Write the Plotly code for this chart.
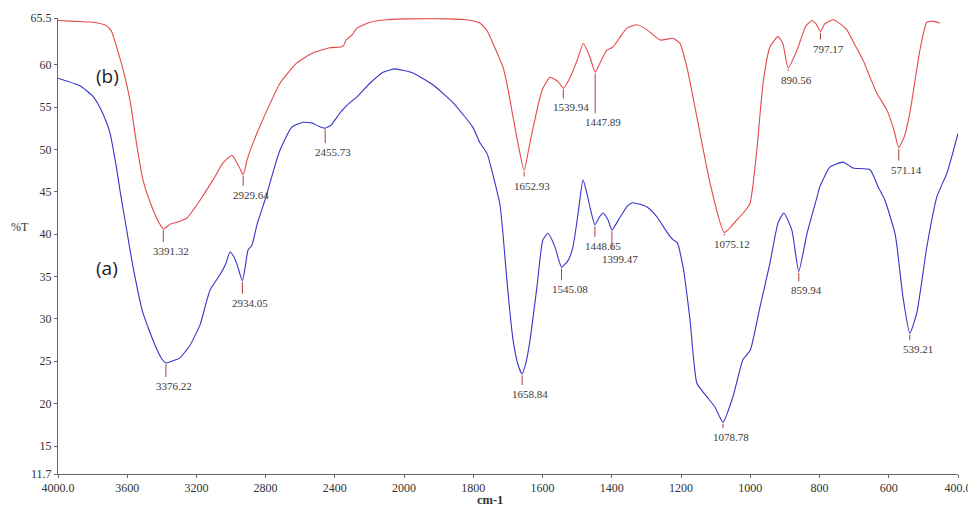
import plotly.graph_objects as go

# ---------------- data ----------------
# spectrum (b) - red
red_wn = [4000, 3900, 3800, 3720, 3690, 3660, 3624, 3584, 3543, 3509, 3457, 3420, 3391.32,
          3350, 3312, 3254, 3220, 3179, 3104, 3046, 2994, 2965, 2945, 2929.64, 2915, 2908,
          2850, 2792, 2717, 2619, 2526, 2428, 2360, 2345, 2335, 2300, 2272, 2197, 2100, 2000,
          1876, 1820, 1781, 1760, 1743, 1725, 1714, 1700, 1685, 1670, 1652.93, 1640, 1627,
          1601, 1578, 1555, 1539.94, 1520, 1500, 1482, 1463, 1447.89, 1434, 1414, 1396, 1375,
          1356, 1327, 1298, 1260, 1223, 1203, 1183, 1154, 1116, 1075.12, 1038, 1010, 1000,
          990, 981, 963, 943, 920, 906, 890.56, 865, 840, 822, 810, 797.17, 785, 761, 740,
          721, 700, 674, 655, 634, 605, 585, 571.14, 555, 539, 510, 490, 470, 452]
red_T = [65.2, 65.1, 65.0, 64.6, 63.9, 62.0, 59.4, 55.8, 50.3, 46.4, 43.2, 41.5, 40.6,
         41.2, 41.4, 41.9, 42.8, 44.0, 46.4, 48.4, 49.3, 48.4, 47.6, 47.0, 48.0, 48.7,
         51.9, 54.6, 57.8, 60.2, 61.4, 62.0, 62.1, 62.4, 62.9, 63.5, 64.3, 65.0, 65.3, 65.4,
         65.4, 65.3, 64.9, 64.0, 62.5, 60.8, 59.7, 57.2, 53.8, 50.5, 47.5, 50.0, 52.6,
         57.0, 58.5, 58.0, 57.2, 58.5, 60.5, 62.5, 60.9, 59.1, 60.2, 61.7, 62.1, 63.3,
         64.3, 64.7, 64.1, 62.9, 63.1, 62.5, 59.7, 53.8, 46.0, 40.2, 41.7, 43.0, 43.7,
         46.5, 49.9, 57.8, 62.1, 63.3, 62.5, 59.6, 61.7, 64.5, 65.2, 64.8, 63.9, 64.8, 65.3, 64.8,
         64.1, 62.5, 60.5, 58.6, 56.6, 54.6, 52.3, 50.2, 51.5, 54.3, 61.7, 65.0, 65.1, 64.9]

# spectrum (a) - blue
blue_wn = [4000, 3873, 3800, 3757, 3720, 3699, 3665, 3642, 3613, 3566, 3509, 3439, 3400,
           3376.22, 3330, 3295, 3237, 3179, 3121, 3064, 3030, 3006, 2985, 2965, 2934.05,
           2915, 2902, 2879, 2850, 2804, 2792, 2740, 2717, 2650, 2584, 2530, 2490, 2455.73,
           2420, 2370, 2330, 2272, 2197, 2121, 2052, 2000, 1974, 1916, 1858, 1801, 1781,
           1760, 1740, 1723, 1714, 1703, 1685, 1670, 1658.84, 1648, 1636, 1616, 1599, 1584,
           1564, 1545.08, 1526, 1512, 1497, 1483, 1470, 1463, 1448.65, 1436, 1425, 1411,
           1399.47, 1376, 1355, 1339, 1298, 1269, 1240, 1225, 1211, 1194, 1174, 1154, 1125, 1102,
           1078.78, 1050, 1021, 1000, 972, 943, 920, 903, 880, 859.94, 836, 807, 799, 770,
           732, 703, 654, 631, 611, 582, 576, 559, 539.21, 519, 490, 461, 432, 415, 400]
blue_T = [58.4, 57.5, 56.3, 54.9, 53.2, 51.9, 48.2, 45.2, 41.7, 36.1, 30.7, 26.9, 25.3,
          24.8, 25.1, 25.4, 26.9, 29.3, 33.4, 35.2, 36.5, 37.9, 37.4, 36.4, 34.5,
          36.5, 38.1, 38.7, 41.1, 44.0, 44.8, 48.5, 49.9, 52.6, 53.2, 53.1, 52.7, 52.5,
          52.9, 54.3, 55.2, 56.2, 57.8, 59.1, 59.5, 59.3, 59.0, 57.6, 55.5, 52.6, 50.8,
          49.5, 46.5, 43.5, 40.0, 34.6, 27.5, 24.5, 23.5, 24.8, 27.5, 33.8, 39.3, 40.1,
          38.5, 36.1, 36.9, 38.5, 42.5, 46.4, 44.5, 43.2, 41.1, 42.0, 42.5, 41.7,
          40.5, 42.0, 43.3, 43.7, 43.2, 42.0, 40.2, 39.4, 39.0, 36.1, 29.9, 22.4, 20.8, 19.6,
          17.8, 20.8, 25.2, 26.3, 31.4, 36.6, 41.3, 42.5, 40.5, 35.6, 40.1, 44.4, 45.6, 47.9,
          48.5, 47.8, 47.6, 45.6, 44.0, 40.1, 38.5, 32.6, 28.3, 30.7, 38.5, 44.4, 47.2, 49.6, 51.9]

# labelled peaks
red_peak_wn = [3391.32, 2929.64, 1652.93, 1539.94, 1447.89, 1075.12, 890.56, 797.17, 571.14]
red_peak_T = [40.6, 47.0, 47.5, 57.2, 59.1, 40.2, 59.6, 63.9, 50.2]
blue_peak_wn = [3376.22, 2934.05, 2455.73, 1658.84, 1545.08, 1448.65, 1399.47, 1078.78, 859.94, 539.21]
blue_peak_T = [24.8, 34.5, 52.5, 23.5, 36.1, 41.1, 40.5, 17.8, 35.6, 28.3]

x_hi_ticks = [4000, 3600, 3200, 2800, 2400, 2000]
x_hi_text = ["4000.0", "3600", "3200", "2800", "2400", "2000"]
x_lo_ticks = [1800, 1600, 1400, 1200, 1000, 800, 600, 400]
x_lo_text = ["1800", "1600", "1400", "1200", "1000", "800", "600", "400.0"]
y_ticks = [11.7, 15, 20, 25, 30, 35, 40, 45, 50, 55, 60, 65.5]
y_text = ["11.7", "15", "20", "25", "30", "35", "40", "45", "50", "55", "60", "65.5"]

# ---------------- styling / layout constants ----------------
# the page body has an 8 px margin, so the figure is 8 px smaller than the window
W, H = 968, 510
ML, MR, MT, MB = 50, 18, 10, 44
Y_MIN, Y_MAX = 11.7, 65.5
BREAK = 2000
split = 346 / 900  # fraction of the axis used by 4000-2000

red_tick_px = [13, 11, 6, 10, 41, 3, 3, 8, 13]
blue_tick_px = [14, 13, 15, 11, 13, 12, 20, 6, 10, 7]

RED = "#e5484a"
BLUE = "#3535c8"
TICK_COL = "#a5403c"
SERIF = "Liberation Serif, Times New Roman, serif"

plot_w = W - ML - MR
plot_h = H - MT - MB
px_per_unit = plot_h / (Y_MAX - Y_MIN)

fig = go.Figure()


def add_curve(wn, t, color):
    hi = [(w, v) for w, v in zip(wn, t) if w >= BREAK]
    lo = [(w, v) for w, v in zip(wn, t) if w <= BREAK]
    for pts, xa in ((hi, "x"), (lo, "x2")):
        fig.add_trace(go.Scatter(x=[p[0] for p in pts], y=[p[1] for p in pts], mode="lines",
                                 line=dict(color=color, width=1.1, shape="spline", smoothing=0.5),
                                 xaxis=xa, yaxis="y", showlegend=False, hoverinfo="skip"))


add_curve(red_wn, red_T, RED)
add_curve(blue_wn, blue_T, BLUE)


def add_peaks(wns, ts, lens):
    for w, v, L in zip(wns, ts, lens):
        xa = "x" if w > BREAK else "x2"
        fig.add_trace(go.Scatter(x=[w, w], y=[v - 0.15, v - L / px_per_unit], mode="lines",
                                 line=dict(color=TICK_COL, width=1), xaxis=xa, yaxis="y",
                                 showlegend=False, hoverinfo="skip"))
        fig.add_annotation(x=w, y=v, xref=xa, yref="y", text=f"{w:.2f}", showarrow=False,
                           xshift=8, yshift=-(L + 9), font=dict(family=SERIF, size=11, color="#3a3a3a"))


add_peaks(red_peak_wn, red_peak_T, red_tick_px)
add_peaks(blue_peak_wn, blue_peak_T, blue_tick_px)

axis_common = dict(showline=True, linecolor="#666", linewidth=1, showgrid=False, zeroline=False,
                   ticks="outside", ticklen=3, tickcolor="#666", automargin=False,
                   tickfont=dict(family=SERIF, size=12, color="#333"))

fig.update_layout(
    width=W, height=H,
    margin=dict(l=ML, r=MR, t=MT, b=MB, autoexpand=False),
    paper_bgcolor="white", plot_bgcolor="white",
    xaxis=dict(domain=[0, split], range=[4000, BREAK], tickvals=x_hi_ticks, ticktext=x_hi_text,
               anchor="y", **axis_common),
    xaxis2=dict(domain=[split, 1], range=[BREAK, 400], tickvals=x_lo_ticks, ticktext=x_lo_text,
                anchor="y", **axis_common),
    yaxis=dict(range=[Y_MIN, Y_MAX], tickvals=y_ticks, ticktext=y_text, **axis_common),
)

fig.add_annotation(xref="paper", yref="paper", x=0, y=(plot_h - 209) / plot_h, xshift=-38,
                   xanchor="center", text="%T", showarrow=False,
                   font=dict(family=SERIF, size=12, color="#333"))
fig.add_annotation(xref="paper", yref="paper", x=432 / plot_w, y=0, yshift=-35,
                   xanchor="center", text="<b>cm-1</b>", showarrow=False,
                   font=dict(family=SERIF, size=12.5, color="#333"))
fig.add_annotation(xref="x", yref="y", x=3715, y=58.6, text="(b)", showarrow=False,
                   font=dict(family="Open Sans, Liberation Sans, sans-serif", size=19, color="#222"))
fig.add_annotation(xref="x", yref="y", x=3715, y=36.0, text="(a)", showarrow=False,
                   font=dict(family="Open Sans, Liberation Sans, sans-serif", size=19, color="#222"))

fig.write_html("out.html")
